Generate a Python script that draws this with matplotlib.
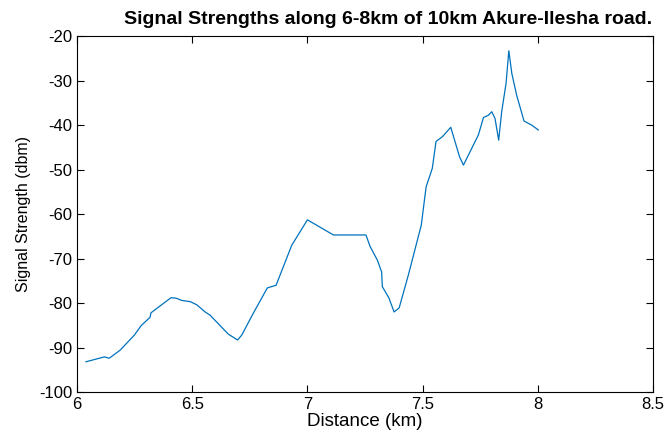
import matplotlib
matplotlib.use('Agg')
import matplotlib.pyplot as plt

plt.rcParams['font.family'] = ['Liberation Sans', 'DejaVu Sans']
plt.rcParams['axes.unicode_minus'] = False

# distance (km) and signal strength (dbm)
distance = [6.039, 6.119, 6.14, 6.187, 6.249, 6.278, 6.317, 6.321, 6.408, 6.43,
            6.454, 6.493, 6.52, 6.556, 6.577, 6.657, 6.697, 6.715, 6.765, 6.826,
            6.864, 6.932, 7.0, 7.113, 7.254, 7.272, 7.303, 7.322, 7.325, 7.354,
            7.376, 7.398, 7.438, 7.494, 7.515, 7.542, 7.558, 7.586, 7.622, 7.66,
            7.677, 7.742, 7.764, 7.785, 7.80, 7.814, 7.83, 7.843, 7.862, 7.874,
            7.887, 7.908, 7.94, 7.973, 8.002]
signal = [-93.2, -92.1, -92.4, -90.6, -87.2, -85.1, -83.2, -82.2, -78.8, -78.9,
          -79.4, -79.7, -80.4, -82.0, -82.7, -87.0, -88.3, -87.2, -82.3, -76.6,
          -76.0, -67.0, -61.3, -64.7, -64.7, -67.3, -70.3, -73.0, -76.3, -78.9,
          -82.0, -81.1, -73.7, -62.5, -53.9, -49.7, -43.7, -42.6, -40.5, -47.1,
          -49.0, -42.2, -38.3, -37.8, -37.0, -38.5, -43.4, -37.0, -30.6, -23.3,
          -28.4, -33.3, -39.1, -40.0, -41.1]

fig = plt.figure(figsize=(6.66, 4.4), dpi=100)
ax = fig.add_axes([0.1156, 0.109, 0.865, 0.809])
ax.plot(distance, signal, color='#0072BD', lw=0.9)

ax.set_xlim(6, 8.5)
ax.set_ylim(-100, -20)
ax.set_xticks([6, 6.5, 7, 7.5, 8, 8.5])
ax.set_xticklabels(['6', '6.5', '7', '7.5', '8', '8.5'])
ax.set_yticks(range(-100, -19, 10))
ax.tick_params(direction='in', top=True, right=True, labelsize=12, length=5)
ax.set_xlabel('Distance (km)', fontsize=13.5, labelpad=1)
ax.set_ylabel('Signal Strength (dbm)', fontsize=11.5, labelpad=6)
ax.set_title('Signal Strengths along 6-8km of 10km Akure-Ilesha road.',
             fontsize=14, fontweight='bold', pad=9, x=0.54)

plt.savefig('out.png', dpi=100)
